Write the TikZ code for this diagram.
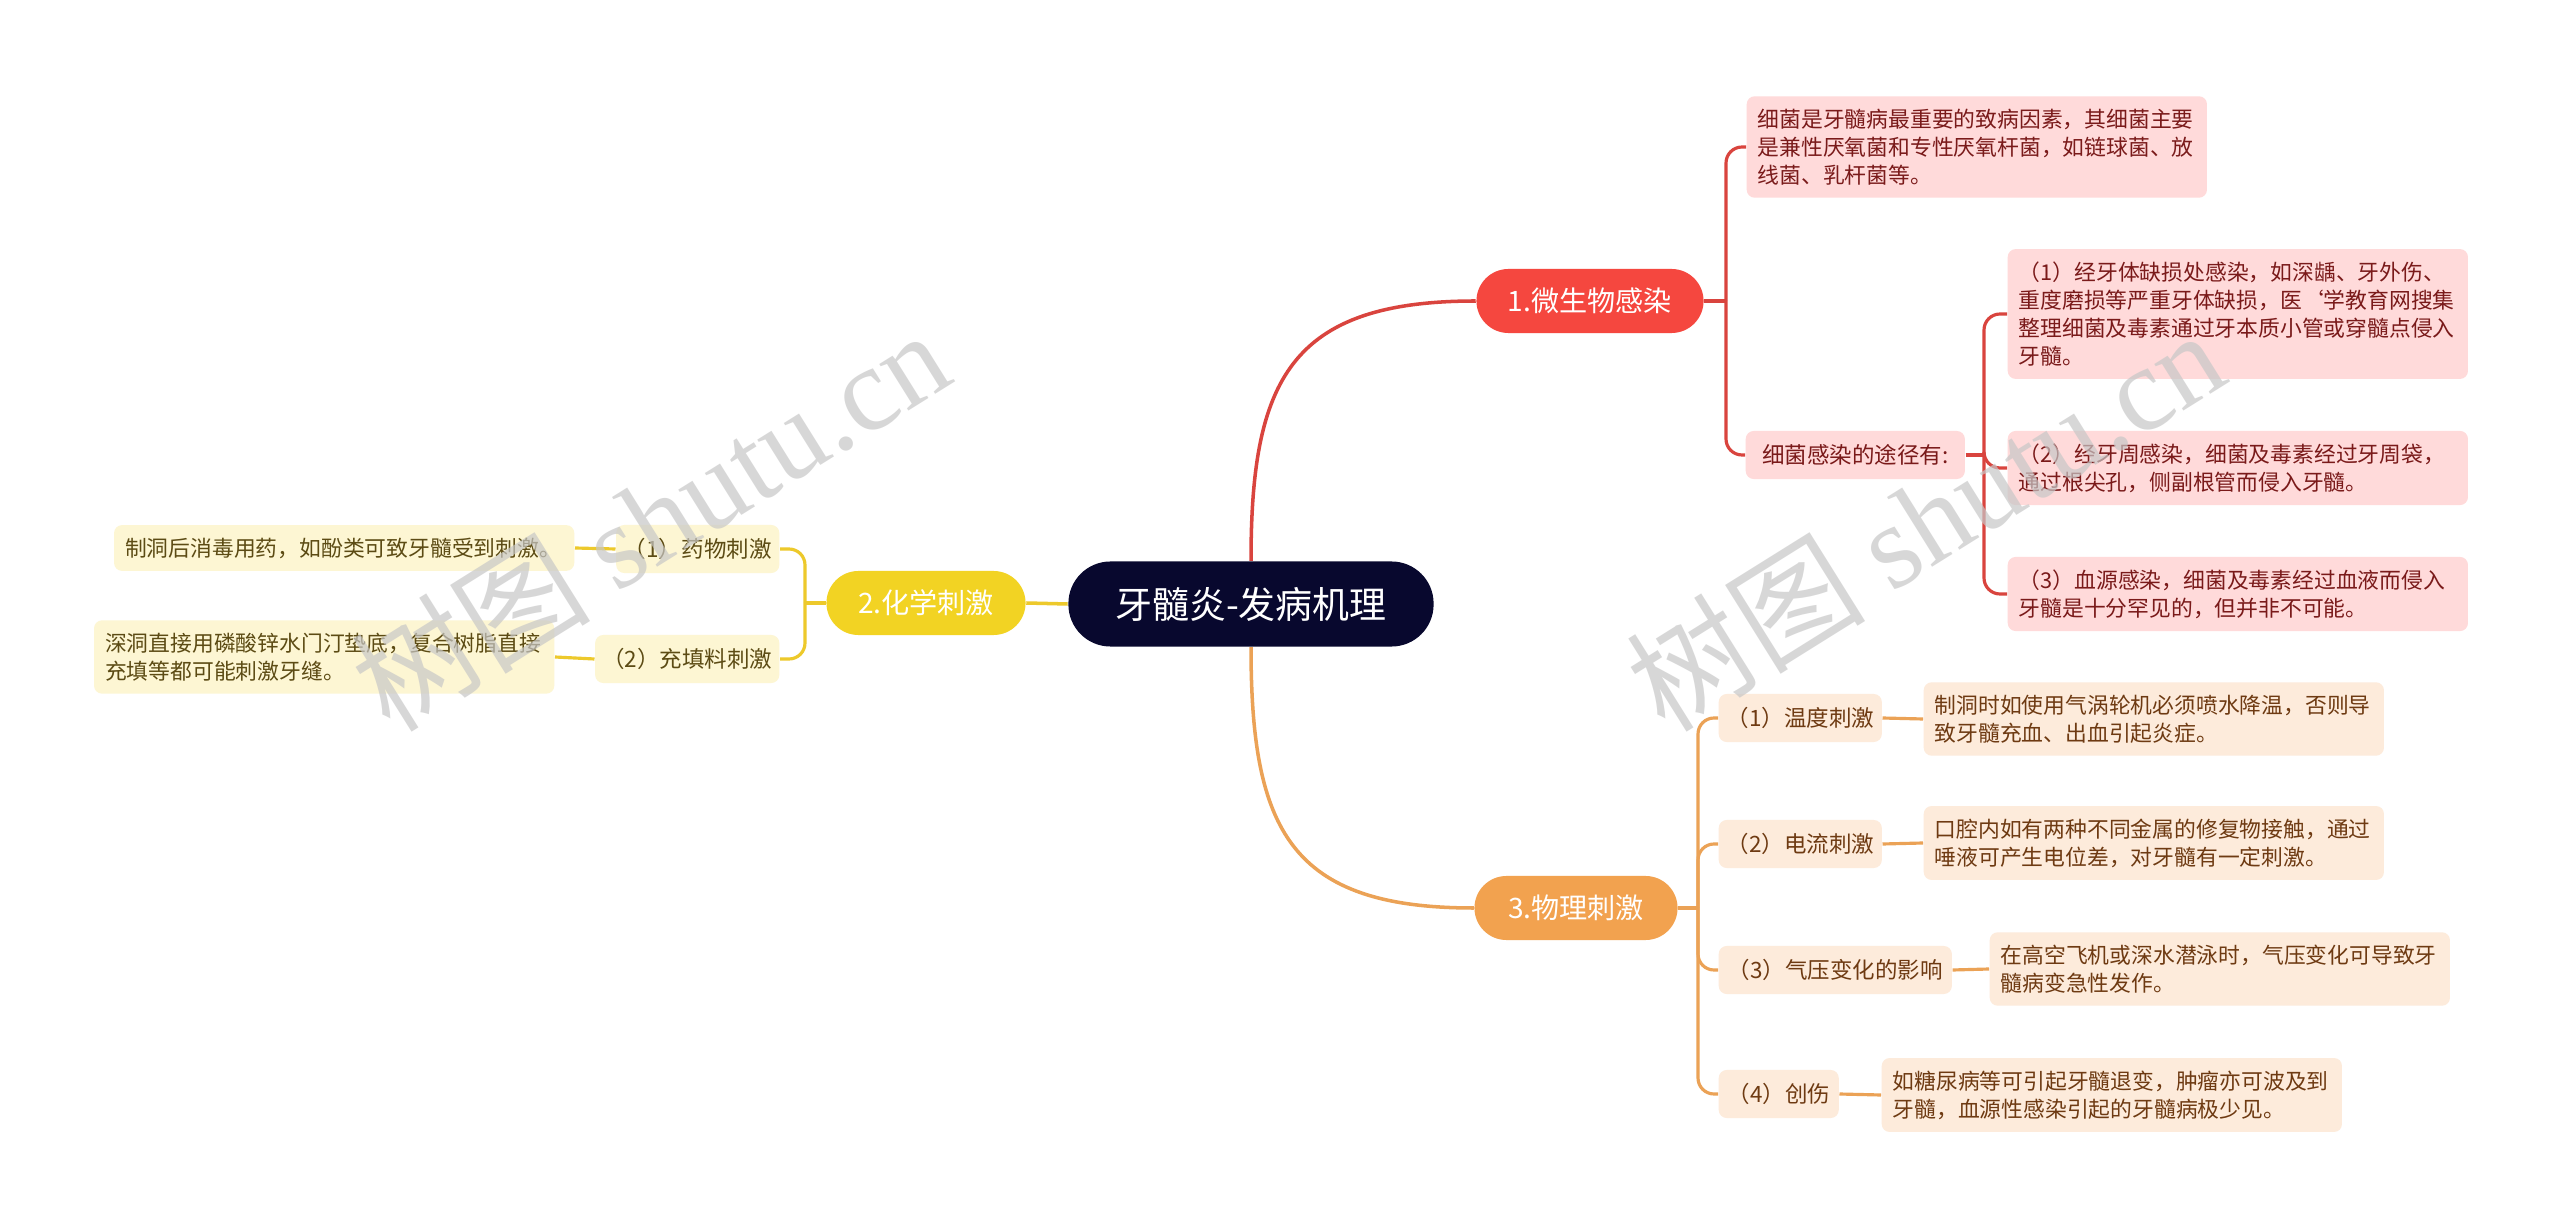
\documentclass[tikz,border=0pt]{standalone}
\usepackage{fontspec}
\setmainfont{Noto Sans CJK SC}
\newfontfamily\markfont{Liberation Serif}
\usetikzlibrary{positioning}
\definecolor{cRoot}{HTML}{08082E}
\definecolor{cRed}{HTML}{F5473F}
\definecolor{cRedL}{HTML}{D9443E}
\definecolor{cRedF}{HTML}{FFDADA}
\definecolor{cRedT}{HTML}{7A1A1A}
\definecolor{cYel}{HTML}{F2D323}
\definecolor{cYelL}{HTML}{EDC92B}
\definecolor{cYelF}{HTML}{FDF6D3}
\definecolor{cYelT}{HTML}{5C4B14}
\definecolor{cOra}{HTML}{F2A24F}
\definecolor{cOraL}{HTML}{EBA256}
\definecolor{cOraF}{HTML}{FDEBDB}
\definecolor{cOraT}{HTML}{6E3A12}

\begin{document}
\begin{tikzpicture}[
  x=0.01cm,y=-0.01cm,
  root/.style={rounded corners=4.2mm,fill=cRoot,text=white,minimum width=3.65cm,minimum height=0.85cm,
    font=\fontsize{10.5}{12}\selectfont},
  topic/.style={rounded corners=3.2mm,text=white,minimum height=0.64cm,font=\fontsize{8}{10}\selectfont},
  sub/.style={rounded corners=0.8mm,minimum height=0.48cm,inner sep=0pt,font=\fontsize{6.4}{8}\selectfont},
  leaf/.style={rounded corners=0.8mm,align=left,text width=4.38cm,inner xsep=0.11cm,inner ysep=0.125cm,
    font=\fontsize{6.2}{8}\selectfont},
  redbox/.style={fill=cRedF,text=cRedT},
  yelbox/.style={fill=cYelF,text=cYelT},
  orabox/.style={fill=cOraF,text=cOraT},
  link/.style={line width=0.9pt,rounded corners=1.6mm},
  wmark/.style={rotate=32,text=black!22,text opacity=0.7,font=\fontsize{34}{40}\selectfont},
]
\useasboundingbox[fill=white] (0,0) rectangle (2560,1228);

% ---------- ROOT AND TOPICS ----------
\node[root] (root) at (1251,604) {牙髓炎-发病机理};
\node[topic,fill=cRed,minimum width=2.27cm] (micro) at (1590,301) {1.微生物感染};
\node[topic,fill=cYel,minimum width=1.99cm] (chem) at (926,603) {2.化学刺激};
\node[topic,fill=cOra,minimum width=2.03cm] (phys) at (1576,908) {3.物理刺激};

% ---------- MICROBES ----------
\node[leaf,redbox,anchor=west] (germ) at (1746,147)
  {细菌是牙髓病最重要的致病因素，其细菌主要\\是兼性厌氧菌和专性厌氧杆菌，如链球菌、放\\线菌、乳杆菌等。};
\node[sub,redbox,anchor=west,minimum width=2.19cm] (route) at (1745,455) {细菌感染的途径有:};
\node[leaf,redbox,anchor=west] (route1) at (2007,314)
  {（1）经牙体缺损处感染，如深龋、牙外伤、\\重度磨损等严重牙体缺损，医`学教育网搜集\\整理细菌及毒素通过牙本质小管或穿髓点侵入\\牙髓。};
\node[leaf,redbox,anchor=west] (route2) at (2007,468)
  {（2）经牙周感染，细菌及毒素经过牙周袋，\\通过根尖孔，侧副根管而侵入牙髓。};
\node[leaf,redbox,anchor=west] (route3) at (2007,594)
  {（3）血源感染，细菌及毒素经过血液而侵入\\牙髓是十分罕见的，但并非不可能。};

% ---------- CHEMICAL ----------
\node[sub,yelbox,anchor=east,minimum width=1.63cm] (drug) at (780,549) {（1）药物刺激};
\node[sub,yelbox,anchor=east,minimum width=1.84cm] (fill) at (780,659) {（2）充填料刺激};
\node[leaf,yelbox,anchor=east] (drugt) at (575,548) {制洞后消毒用药，如酚类可致牙髓受到刺激。};
\node[leaf,yelbox,anchor=east] (fillt) at (555,657)
  {深洞直接用磷酸锌水门汀垫底，复合树脂直接\\充填等都可能刺激牙缝。};

% ---------- PHYSICAL ----------
\node[sub,orabox,anchor=west,minimum width=1.63cm] (heat) at (1718,718) {（1）温度刺激};
\node[sub,orabox,anchor=west,minimum width=1.63cm] (elec) at (1718,844) {（2）电流刺激};
\node[sub,orabox,anchor=west,minimum width=2.33cm] (press) at (1718,970) {（3）气压变化的影响};
\node[sub,orabox,anchor=west,minimum width=1.20cm] (hurt) at (1718,1094) {（4）创伤};
\node[leaf,orabox,anchor=west] (heatt) at (1923,719)
  {制洞时如使用气涡轮机必须喷水降温，否则导\\致牙髓充血、出血引起炎症。};
\node[leaf,orabox,anchor=west] (elect) at (1923,843)
  {口腔内如有两种不同金属的修复物接触，通过\\唾液可产生电位差，对牙髓有一定刺激。};
\node[leaf,orabox,anchor=west] (presst) at (1989,969)
  {在高空飞机或深水潜泳时，气压变化可导致牙\\髓病变急性发作。};
\node[leaf,orabox,anchor=west] (hurtt) at (1881,1095)
  {如糖尿病等可引起牙髓退变，肿瘤亦可波及到\\牙髓，血源性感染引起的牙髓病极少见。};

% ---------- CONNECTORS ----------
\coordinate (f1) at (1726,301);
\coordinate (f1a) at (1984,455);
\coordinate (f2) at (805,603);
\coordinate (f3) at (1698,908);

\draw[line width=1pt,cRedL] (root.north) .. controls (1251,380) and (1290,301) .. (micro.west);
\draw[line width=1pt,cOraL] (root.south) .. controls (1251,830) and (1290,908) .. (phys.west);
\draw[line width=1pt,cYelL] (root.west) -- (chem.east);

\draw[link,cRedL] (micro.east) -- (f1);
\draw[link,cRedL] (f1) |- (germ.west);
\draw[link,cRedL] (f1) |- (route.west);
\draw[link,cRedL] (route.east) -- (f1a);
\foreach \n in {route1,route2,route3}
  \draw[link,cRedL] (f1a) |- (\n.west);

\draw[link,cYelL] (chem.west) -- (f2);
\draw[link,cYelL] (f2) |- (drug.east);
\draw[link,cYelL] (f2) |- (fill.east);
\draw[link,cYelL] (drugt.east) -- (drug.west);
\draw[link,cYelL] (fillt.east) -- (fill.west);

\draw[link,cOraL] (phys.east) -- (f3);
\foreach \n in {heat,elec,press,hurt}{
  \draw[link,cOraL] (f3) |- (\n.west);
  \draw[link,cOraL] (\n.east) -- (\n t.west);
}

% ---------- WATERMARK ----------
\node[wmark] (wm1) at (650,519) {树图 {\markfont shutu.cn}};
\node[wmark] (wm2) at (1925,519) {树图 {\markfont shutu.cn}};

\end{tikzpicture}
\end{document}
